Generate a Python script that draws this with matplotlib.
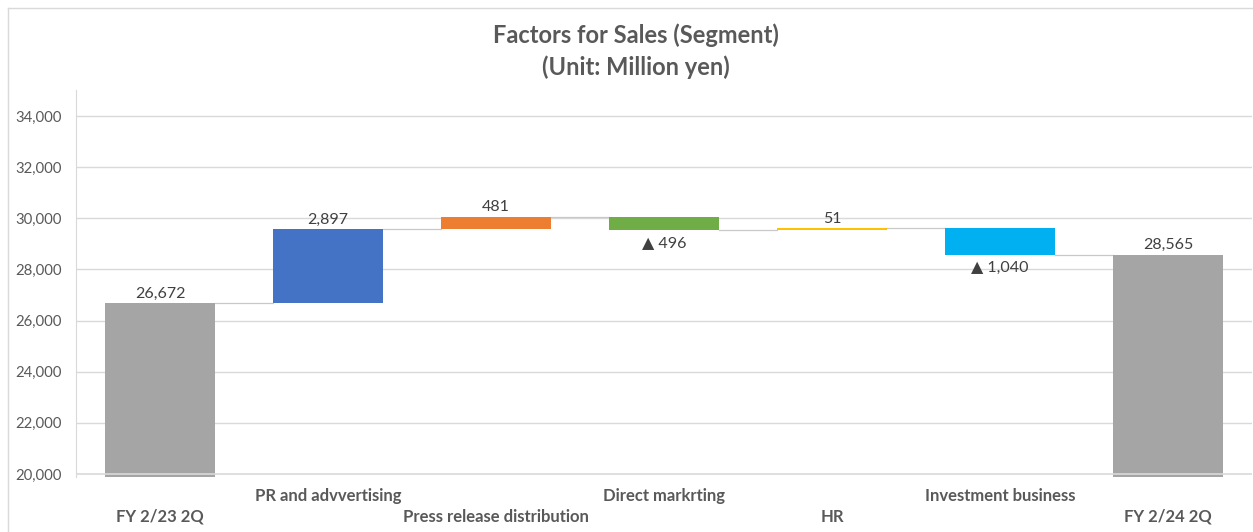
import matplotlib.pyplot as plt
from matplotlib.lines import Line2D

# Sales bridge, million yen
categories = ["FY 2/23 2Q", "PR and advvertising", "Press release distribution",
              "Direct markrting", "HR", "Investment business", "FY 2/24 2Q"]
start_total = 26672
changes = [2897, 481, -496, 51, -1040]
end_total = 28565
colors = ["#A5A5A5", "#4472C4", "#ED7D31", "#70AD47", "#FFC000", "#00B0F0", "#A5A5A5"]
yticks = [20000, 22000, 24000, 26000, 28000, 30000, 32000, 34000]

FONT = ["Lato", "DejaVu Sans"]
plt.rcParams["font.family"] = FONT
TXT = "#404040"

W, H = 1253, 532
fig = plt.figure(figsize=(W / 100, H / 100), dpi=100)
ax = fig.add_axes([76 / W, (H - 477) / H, 1176 / W, 387 / H])

# bottoms/heights for each bar
bottoms, heights, tops = [0], [start_total], [start_total]
level = start_total
for c in changes:
    bottoms.append(level if c >= 0 else level + c)
    heights.append(abs(c))
    level += c
    tops.append(level)
bottoms.append(0)
heights.append(end_total)
tops.append(end_total)

x = list(range(len(categories)))
width = 0.66
ax.bar(x, heights, bottom=bottoms, width=width, color=colors, zorder=2)

# connectors between consecutive bars
for i in range(len(x) - 1):
    ax.plot([i + width / 2, i + 1 - width / 2], [tops[i], tops[i]],
            color="#C8C8C8", lw=0.9, zorder=1)

# value labels
values = [start_total] + changes + [end_total]
for i, v in enumerate(values):
    if v >= 0:
        ax.text(i, bottoms[i] + heights[i] + 110, f"{v:,}", ha="center", va="bottom",
                fontsize=11.5, color=TXT)
    else:
        ax.text(i, bottoms[i] - 250, f"▲ {abs(v):,}", ha="center", va="top",
                fontsize=11.5, color=TXT)

ax.set_xlim(-0.5, len(x) - 0.5)
ax.set_ylim(19883, 35017)
ax.set_yticks(yticks)
ax.set_yticklabels([f"{t:,}" for t in yticks], fontsize=10.7, color="#595959")
ax.tick_params(axis="y", length=0, pad=10)
ax.set_xticks([])
for t in yticks[1:]:
    ax.axhline(t, color="#D9D9D9", lw=1, zorder=0)
ax.axhline(20000, color="#D9D9D9", lw=1.2, zorder=3)
for s in ["top", "right", "bottom"]:
    ax.spines[s].set_visible(False)
ax.spines["left"].set_color("#D9D9D9")

# staggered category labels
for i, name in enumerate(categories):
    y = 517 if i % 2 == 0 else 496
    fig.text((76 + 84 + 168 * i) / W, 1 - y / H, name, ha="center", va="center",
             fontsize=12, fontweight="bold", color="#595959")

fig.text(636 / W, 1 - 35 / H, "Factors for Sales (Segment)", ha="center", va="center",
         fontsize=17, fontweight="bold", color="#595959")
fig.text(636 / W, 1 - 67 / H, "(Unit: Million yen)", ha="center", va="center",
         fontsize=17, fontweight="bold", color="#595959")

# chart area border
fig.add_artist(Line2D([8 / W, 1], [1 - 8 / H, 1 - 8 / H], color="#D9D9D9", lw=1))
fig.add_artist(Line2D([8 / W, 8 / W], [0, 1 - 8 / H], color="#D9D9D9", lw=1))

fig.savefig("out.png", dpi=100, facecolor="white")
